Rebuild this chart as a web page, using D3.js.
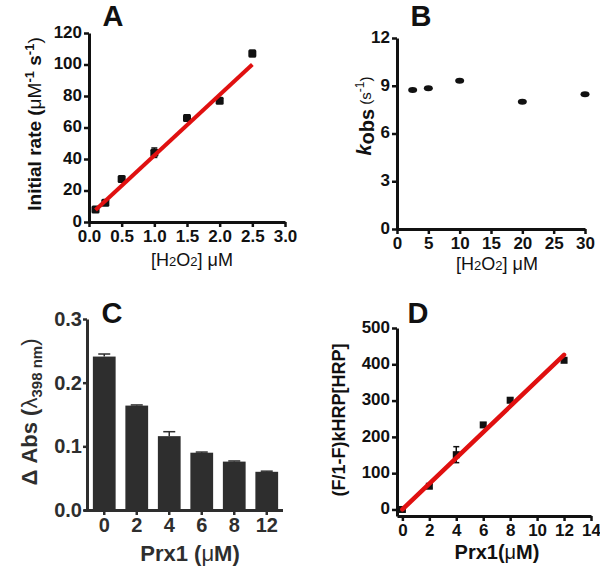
<!DOCTYPE html>
<html><head><meta charset="utf-8">
<script src="https://cdn.jsdelivr.net/npm/d3@7"></script>
<style>body{margin:0;background:#fff}svg{display:block}text{font-family:"Liberation Sans",Arial,sans-serif}</style>
</head><body>
<script>
// Panel A
const aX = [0.1, 0.25, 0.5, 1.0, 1.5, 2.0, 2.5];
const aY = [8, 12.3, 27.3, 44, 66, 77, 107];
const aErr = [1, 1.5, 1.5, 3, 2, 1.5, 2];
const aFit = [[0.1, 7.6], [2.5, 100]];
const aXTicks = [0, 0.5, 1.0, 1.5, 2.0, 2.5, 3.0];
const aYTicks = [0, 20, 40, 60, 80, 100, 120];
// Panel B
const bX = [2.5, 5, 10, 20, 30];
const bY = [8.73, 8.84, 9.32, 8.0, 8.46];
const bXTicks = [0, 5, 10, 15, 20, 25, 30];
const bYTicks = [0, 3, 6, 9, 12];
// Panel C
const cCats = ["0", "2", "4", "6", "8", "12"];
const cVals = [0.241, 0.164, 0.116, 0.090, 0.076, 0.060];
const cErr = [0.004, 0.001, 0.007, 0.001, 0.001, 0.001];
const cYTicks = [0.0, 0.1, 0.2, 0.3];
// Panel D
const dX = [0, 2, 4, 6, 8, 12];
const dY = [0, 64, 151, 233, 301, 411];
const dErr = [4, 5, 22, 6, 6, 5];
const dFit = [[0, 0], [12, 426]];
const dXTicks = [0, 2, 4, 6, 8, 10, 12, 14];
const dYTicks = [0, 100, 200, 300, 400, 500];

const svg = d3.select("body").append("svg").attr("width", 600).attr("height", 574);
const INK = "#111";

function styleAxis(g, col, fs) {
  g.select(".domain").attr("stroke", col).attr("stroke-width", 3);
  g.selectAll(".tick line").attr("stroke", col).attr("stroke-width", 2.5);
  g.selectAll(".tick text").attr("fill", col).attr("font-size", fs).attr("font-weight", "bold")
    .attr("font-family", '"Liberation Sans",Arial,sans-serif');
}
function axes(x, y, xTicks, yTicks, xFmt, yFmt, col, xPos, yPos) {
  const gx = svg.append("g").attr("transform", `translate(0,${xPos})`)
    .call(d3.axisBottom(x).tickValues(xTicks).tickFormat(xFmt).tickSize(5).tickSizeOuter(0).tickPadding(3));
  styleAxis(gx, col, 17);
  const gy = svg.append("g").attr("transform", `translate(${yPos},0)`)
    .call(d3.axisLeft(y).tickValues(yTicks).tickFormat(yFmt).tickSize(5).tickSizeOuter(0).tickPadding(2));
  styleAxis(gy, col, 17);
  gy.selectAll(".tick text").attr("dy", "0.25em");
}
function errBars(x, y, xs, ys, es, cap, col) {
  xs.forEach((xv, i) => {
    const cx = x(xv), y1 = y(ys[i] + es[i]), y0 = y(ys[i] - es[i]);
    svg.append("line").attr("x1", cx).attr("x2", cx).attr("y1", y0).attr("y2", y1).attr("stroke", col).attr("stroke-width", 1.5);
    [y0, y1].forEach(yy => svg.append("line").attr("x1", cx - cap).attr("x2", cx + cap).attr("y1", yy).attr("y2", yy).attr("stroke", col).attr("stroke-width", 1.5));
  });
}
function title(t, x, y) {
  svg.append("text").attr("x", x).attr("y", y).attr("text-anchor", "middle")
    .attr("font-size", 29).attr("font-weight", "bold").attr("fill", INK).text(t);
}
function h2o2(x, y) {
  const xl = svg.append("text").attr("x", x).attr("y", y).attr("text-anchor", "middle").attr("font-size", 18).attr("fill", INK);
  xl.append("tspan").text("[H");
  xl.append("tspan").attr("font-size", 13).text("2");
  xl.append("tspan").text("O");
  xl.append("tspan").attr("font-size", 13).text("2");
  xl.append("tspan").text("] μM");
}

// ---------- A ----------
{
  const x = d3.scaleLinear().domain([0, 3]).range([89, 285]);
  const y = d3.scaleLinear().domain([0, 120]).range([222, 33]);
  axes(x, y, aXTicks, aYTicks, d3.format(".1f"), d3.format("d"), INK, 222, 89);
  errBars(x, y, aX, aY, aErr, 3, INK);
  svg.selectAll(null).data(aX).enter().append("rect")
    .attr("x", d => x(d) - 4).attr("y", (d, i) => y(aY[i]) - 4).attr("width", 8).attr("height", 8).attr("rx", 1.5).attr("fill", INK);
  svg.append("line").attr("x1", x(aFit[0][0])).attr("y1", y(aFit[0][1])).attr("x2", x(aFit[1][0])).attr("y2", y(aFit[1][1]))
    .attr("stroke", "#e01010").attr("stroke-width", 4);
  title("A", 113, 26);
  const yl = svg.append("text").attr("transform", "translate(41,124) rotate(-90)").attr("text-anchor", "middle")
    .attr("font-size", 19).attr("font-weight", "bold").attr("fill", INK);
  yl.append("tspan").text("Initial rate (");
  yl.append("tspan").attr("font-weight", "normal").text("μM");
  yl.append("tspan").attr("font-size", 13).attr("dy", -7).text("-1");
  yl.append("tspan").attr("dy", 7).text(" s");
  yl.append("tspan").attr("font-size", 13).attr("dy", -7).text("-1");
  yl.append("tspan").attr("dy", 7).attr("font-weight", "normal").text(")");
  h2o2(192, 266);
}

// ---------- B ----------
{
  const x = d3.scaleLinear().domain([0, 30]).range([397, 585]);
  const y = d3.scaleLinear().domain([0, 12]).range([229, 38]);
  axes(x, y, bXTicks, bYTicks, d3.format("d"), d3.format("d"), INK, 229, 397);
  svg.selectAll(null).data(bX).enter().append("ellipse")
    .attr("cx", d => x(d)).attr("cy", (d, i) => y(bY[i])).attr("rx", 4.5).attr("ry", 3).attr("fill", INK);
  title("B", 421, 26);
  const yl = svg.append("text").attr("transform", "translate(371,116) rotate(-90)").attr("text-anchor", "middle")
    .attr("font-size", 20).attr("fill", INK);
  yl.append("tspan").attr("font-style", "italic").attr("font-weight", "bold").text("k");
  yl.append("tspan").attr("font-weight", "bold").attr("dy", 3).text("obs");
  yl.append("tspan").attr("font-size", 15).attr("dy", -3).text(" (s");
  yl.append("tspan").attr("font-size", 12).attr("dy", -7).text("-1");
  yl.append("tspan").attr("font-size", 15).attr("dy", 7).text(")");
  h2o2(497, 270);
}

// ---------- C ----------
{
  const col = "#2e2e2e";
  const x = d3.scaleBand().domain(cCats).range([88, 283]).paddingInner(0.3).paddingOuter(0.15);
  const y = d3.scaleLinear().domain([0, 0.3]).range([510, 319]);
  svg.selectAll(null).data(cCats).enter().append("rect")
    .attr("x", d => x(d)).attr("width", x.bandwidth())
    .attr("y", (d, i) => y(cVals[i])).attr("height", (d, i) => y(0) - y(cVals[i])).attr("fill", col);
  cCats.forEach((c, i) => {
    const cx = x(c) + x.bandwidth() / 2, yt = y(cVals[i] + cErr[i]);
    svg.append("line").attr("x1", cx).attr("x2", cx).attr("y1", y(cVals[i])).attr("y2", yt).attr("stroke", col).attr("stroke-width", 1.5);
    svg.append("line").attr("x1", cx - 6).attr("x2", cx + 6).attr("y1", yt).attr("y2", yt).attr("stroke", col).attr("stroke-width", 1.5);
  });
  const gx = svg.append("g").attr("transform", "translate(0,510)")
    .call(d3.axisBottom(x).tickSize(5).tickSizeOuter(0).tickPadding(3));
  gx.select(".domain").attr("d", "M84,0.5H283");
  styleAxis(gx, col, 20);
  const gy = svg.append("g").attr("transform", "translate(87,0)")
    .call(d3.axisLeft(y).tickValues(cYTicks).tickFormat(d3.format(".1f")).tickSize(4).tickSizeOuter(0).tickPadding(1));
  styleAxis(gy, col, 20);
  title("C", 112, 323);
  const yl = svg.append("text").attr("transform", "translate(37,412) rotate(-90)").attr("text-anchor", "middle")
    .attr("font-size", 22).attr("font-weight", "bold").attr("fill", col);
  yl.append("tspan").text("Δ Abs (");
  yl.append("tspan").attr("font-weight", "normal").text("λ");
  yl.append("tspan").attr("font-size", 15).attr("dy", 5).text("398 nm");
  yl.append("tspan").attr("dy", -5).attr("font-weight", "normal").text(")");
  const xl = svg.append("text").attr("x", 190).attr("y", 561).attr("text-anchor", "middle")
    .attr("font-size", 22).attr("font-weight", "bold").attr("fill", col);
  xl.append("tspan").text("Prx1 (");
  xl.append("tspan").attr("font-weight", "normal").text("μ");
  xl.append("tspan").text("M)");
}

// ---------- D ----------
{
  const x = d3.scaleLinear().domain([-0.4, 14]).range([397, 591]);
  const y = d3.scaleLinear().domain([-18, 500]).range([516, 328]);
  axes(x, y, dXTicks, dYTicks, d3.format("d"), d3.format("d"), INK, 516, 397);
  errBars(x, y, dX, dY, dErr, 3, INK);
  svg.selectAll(null).data(dX).enter().append("rect")
    .attr("x", d => x(d) - 3.5).attr("y", (d, i) => y(dY[i]) - 3.5).attr("width", 7).attr("height", 7).attr("fill", INK);
  svg.append("line").attr("x1", x(dFit[0][0])).attr("y1", y(dFit[0][1])).attr("x2", x(dFit[1][0])).attr("y2", y(dFit[1][1]))
    .attr("stroke", "#e01010").attr("stroke-width", 4.5).attr("stroke-linecap", "round");
  title("D", 418, 323);
  svg.append("text").attr("transform", "translate(345,420) rotate(-90)").attr("text-anchor", "middle")
    .attr("font-size", 18).attr("font-weight", "bold").attr("fill", INK).text("(F/1-F)kHRP[HRP]");
  const xl = svg.append("text").attr("x", 497).attr("y", 559).attr("text-anchor", "middle")
    .attr("font-size", 20).attr("font-weight", "bold").attr("fill", INK);
  xl.append("tspan").text("Prx1(");
  xl.append("tspan").attr("font-weight", "normal").text("μ");
  xl.append("tspan").text("M)");
}
</script>
</body></html>
